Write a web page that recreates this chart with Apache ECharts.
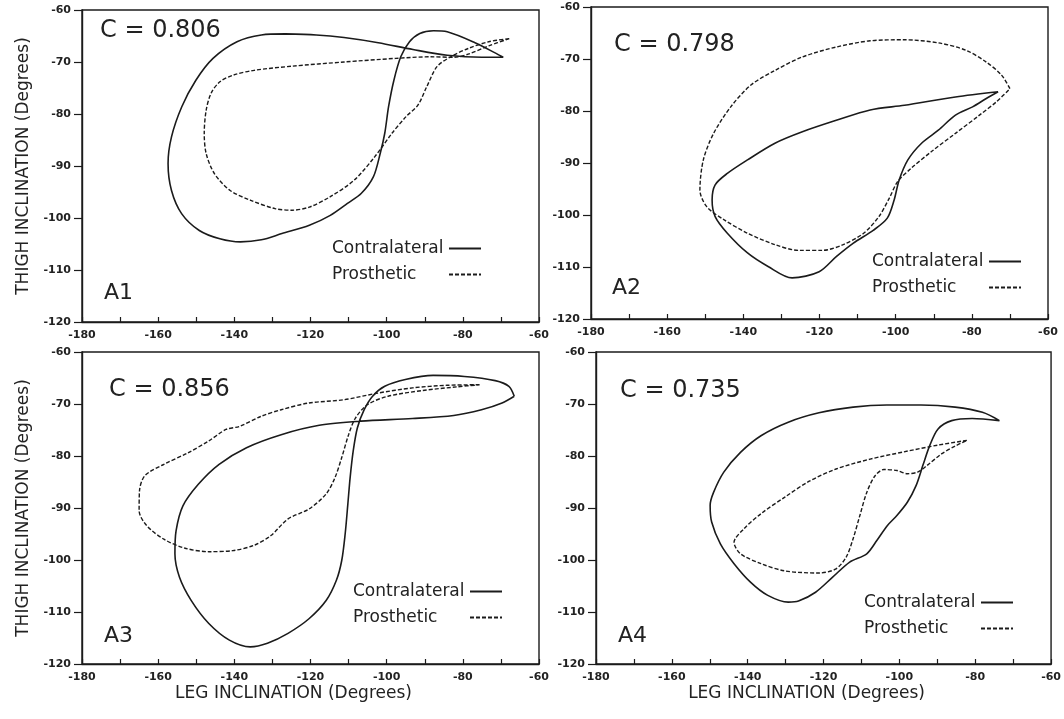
<!DOCTYPE html>
<html><head><meta charset="utf-8">
<script src="https://cdn.jsdelivr.net/npm/echarts@6/dist/echarts.min.js"></script>
<style>html,body{margin:0;padding:0;background:#fff}#chart{width:1064px;height:719px}</style>
</head><body><div id="chart"></div>
<script>
// ---- data ----
const panelLabels = ['A1', 'A2', 'A3', 'A4'];
const cValues = ['0.806', '0.798', '0.856', '0.735'];
const seriesNames = ['Contralateral', 'Prosthetic'];
const xMin = -180, xMax = -60, xStep = 10, xLabelStep = 20;
const yMin = -120, yMax = -60, yStep = 10;
const yAxisTitle = 'THIGH INCLINATION (Degrees)';
const xAxisTitle = 'LEG INCLINATION (Degrees)';

const a1Contralateral = [[-126.6,-64.6],[-118.5,-64.8],[-111.2,-65.3],[-102.2,-66.3],[-93.1,-67.6],[-84.1,-68.7],[-75.0,-69.1],[-69.4,-69.1],[-71.4,-68.3],[-76.8,-66.3],[-84.1,-64.2],[-87.7,-64.0],[-91.3,-64.5],[-94.0,-66.1],[-96.3,-69.0],[-98.1,-73.5],[-99.5,-78.6],[-100.5,-83.7],[-101.7,-87.6],[-103.5,-92.1],[-106.7,-95.3],[-110.3,-97.2],[-114.8,-99.5],[-120.3,-101.4],[-127.5,-103.0],[-132.9,-104.2],[-138.4,-104.6],[-143.8,-104.0],[-149.2,-102.4],[-153.8,-99.2],[-156.5,-94.7],[-157.4,-89.5],[-156.5,-84.4],[-153.8,-78.6],[-150.1,-73.5],[-145.6,-69.3],[-139.3,-66.1],[-132.9,-64.8],[-126.6,-64.6]];
const a1Prosthetic = [[-67.8,-65.5],[-73.2,-66.9],[-78.6,-68.5],[-82.3,-69.1],[-88.6,-69.0],[-97.6,-69.3],[-111.2,-70.0],[-124.8,-70.8],[-134.8,-71.6],[-140.2,-72.5],[-143.8,-73.8],[-146.1,-76.0],[-147.4,-79.3],[-147.9,-83.7],[-147.4,-87.6],[-145.2,-91.5],[-141.1,-94.7],[-135.7,-96.6],[-129.3,-98.2],[-124.8,-98.5],[-120.3,-97.9],[-114.8,-95.9],[-108.5,-92.7],[-103.1,-88.2],[-98.6,-83.7],[-94.9,-80.5],[-91.8,-78.3],[-89.5,-74.8],[-86.8,-70.9],[-83.2,-69.0],[-78.6,-67.4],[-73.2,-66.1],[-67.8,-65.5]];
const a2Contralateral = [[-73.1,-76.3],[-84.3,-77.3],[-97.7,-78.9],[-106.7,-79.8],[-115.6,-81.8],[-124.5,-84.0],[-131.7,-86.2],[-138.9,-89.4],[-144.2,-92.0],[-147.4,-94.2],[-148.2,-97.1],[-147.4,-100.3],[-144.2,-103.5],[-138.9,-107.3],[-133.5,-109.9],[-127.2,-112.1],[-120.1,-110.9],[-115.6,-108.0],[-111.1,-105.4],[-105.8,-102.9],[-102.2,-100.6],[-100.4,-97.1],[-99.1,-93.3],[-96.8,-89.4],[-93.2,-86.2],[-88.8,-83.7],[-84.3,-80.8],[-79.8,-79.2],[-76.2,-77.6],[-73.1,-76.3]];
const a2Prosthetic = [[-70.0,-75.7],[-72.2,-73.1],[-76.2,-70.6],[-81.6,-68.3],[-88.8,-66.9],[-97.7,-66.3],[-106.7,-66.5],[-115.6,-67.7],[-124.5,-69.6],[-131.7,-72.2],[-138.0,-75.0],[-143.3,-79.2],[-147.8,-84.3],[-150.5,-89.4],[-151.4,-95.2],[-149.6,-98.4],[-145.1,-100.9],[-138.9,-103.5],[-131.7,-105.7],[-125.4,-106.8],[-119.2,-106.8],[-113.8,-105.7],[-108.4,-103.5],[-104.4,-100.3],[-101.7,-96.8],[-99.5,-93.6],[-95.9,-91.0],[-90.6,-87.8],[-84.3,-84.3],[-78.0,-80.8],[-73.5,-78.2],[-70.0,-75.7]];
const a3Contralateral = [[-66.5,-68.5],[-67.9,-66.6],[-71.5,-65.5],[-79.6,-64.7],[-87.8,-64.5],[-95.1,-65.3],[-100.5,-66.6],[-103.7,-68.5],[-105.9,-71.1],[-107.7,-74.6],[-108.8,-79.1],[-109.6,-84.2],[-110.2,-89.3],[-110.9,-95.0],[-111.8,-100.1],[-113.2,-103.9],[-115.9,-107.8],[-120.4,-111.3],[-125.9,-114.1],[-131.3,-116.0],[-135.8,-116.7],[-141.3,-115.4],[-146.7,-112.2],[-151.3,-107.8],[-154.4,-103.3],[-155.6,-98.8],[-155.3,-94.4],[-153.5,-89.6],[-149.4,-85.4],[-144.0,-81.6],[-136.8,-78.4],[-127.7,-75.9],[-117.7,-74.1],[-106.8,-73.3],[-93.2,-72.8],[-82.4,-72.2],[-75.1,-71.1],[-69.7,-69.8],[-66.5,-68.5]];
const a3Prosthetic = [[-75.6,-66.3],[-84.2,-66.4],[-93.2,-66.9],[-102.3,-67.9],[-111.4,-69.2],[-120.4,-69.8],[-127.7,-71.1],[-133.1,-72.4],[-138.6,-74.3],[-142.2,-74.9],[-146.7,-77.1],[-152.2,-79.4],[-158.5,-81.6],[-163.5,-83.8],[-164.9,-86.7],[-165.0,-90.5],[-163.0,-93.4],[-158.5,-96.0],[-153.1,-97.7],[-146.7,-98.4],[-140.4,-98.2],[-134.9,-97.2],[-130.4,-95.3],[-125.9,-92.1],[-120.4,-90.2],[-115.9,-87.3],[-113.6,-84.2],[-111.8,-80.3],[-110.0,-75.9],[-108.2,-72.7],[-105.0,-70.1],[-99.6,-68.5],[-90.5,-67.4],[-81.5,-66.7],[-75.6,-66.3]];
const a4Contralateral = [[-73.6,-73.2],[-78.1,-71.6],[-85.3,-70.6],[-94.3,-70.2],[-103.3,-70.2],[-112.2,-70.6],[-121.2,-71.7],[-129.3,-73.5],[-136.5,-76.1],[-141.9,-79.3],[-146.3,-83.1],[-149.0,-87.0],[-149.9,-89.5],[-149.5,-92.7],[-147.2,-96.9],[-143.6,-100.7],[-139.2,-104.3],[-134.7,-106.8],[-129.3,-108.1],[-126.6,-107.9],[-122.1,-106.2],[-117.6,-103.3],[-113.1,-100.4],[-108.6,-98.8],[-105.9,-96.2],[-103.2,-93.4],[-100.6,-91.4],[-97.9,-88.9],[-95.6,-85.7],[-93.8,-81.8],[-92.0,-78.0],[-89.8,-74.8],[-86.2,-73.2],[-80.8,-72.8],[-73.6,-73.2]];
const a4Prosthetic = [[-82.2,-77.0],[-89.8,-77.9],[-98.8,-79.2],[-107.7,-80.6],[-116.7,-82.5],[-123.9,-84.9],[-130.2,-87.9],[-136.5,-91.1],[-141.0,-94.0],[-143.6,-96.6],[-141.9,-98.8],[-136.5,-100.7],[-130.2,-102.1],[-121.2,-102.5],[-116.7,-101.7],[-114.0,-99.4],[-112.2,-95.9],[-110.4,-91.4],[-108.6,-87.0],[-106.4,-83.8],[-104.1,-82.6],[-100.6,-82.8],[-97.9,-83.4],[-95.2,-83.1],[-92.5,-81.7],[-88.9,-79.6],[-85.3,-78.1],[-82.2,-77.0]];

const contralateralData = [a1Contralateral, a2Contralateral, a3Contralateral, a4Contralateral];
const prostheticData = [a1Prosthetic, a2Prosthetic, a3Prosthetic, a4Prosthetic];

// ---- layout ----
const grids = [
  {left: 82, top: 10, width: 457, height: 312},
  {left: 591, top: 7, width: 457, height: 312},
  {left: 82, top: 352, width: 457, height: 312},
  {left: 596, top: 352, width: 457, height: 312}
];
const cPos = [[100, 33], [614, 47], [109, 392], [620, 393]];
const labelPos = [[104, 295], [612, 290], [104, 638], [618, 638]];
const legendPos = [[327, 235], [867, 248], [348, 578], [859, 589]];
const showYName = [true, false, true, false];
const showXName = [false, false, true, true];

const INK = '#1b1b1b';
const FONT = 'DejaVu Sans';

const option = {
  backgroundColor: '#ffffff',
  animation: false,
  grid: grids.map(g => Object.assign({show: true, borderColor: INK, borderWidth: 1.4, backgroundColor: 'transparent'}, g)),
  xAxis: grids.map((g, i) => ({
    gridIndex: i, type: 'value', min: xMin, max: xMax, interval: xStep,
    name: showXName[i] ? xAxisTitle : '', nameLocation: 'middle', nameGap: 21,
    nameTextStyle: {fontFamily: FONT, fontSize: 17, color: '#222', padding: [0, 34, 0, 0]},
    axisLine: {show: true, onZero: false, lineStyle: {color: INK, width: 1.4}},
    axisTick: {show: true, inside: true, length: 5, lineStyle: {color: INK, width: 1.2}},
    axisLabel: {show: true, margin: 8, fontFamily: FONT, fontSize: 11, fontWeight: 'bold', color: '#222',
      showMinLabel: true, showMaxLabel: true,
      formatter: v => (v % xLabelStep === 0 ? String(v) : '')},
    splitLine: {show: false}
  })),
  yAxis: grids.map((g, i) => ({
    gridIndex: i, type: 'value', min: yMin, max: yMax, interval: yStep,
    name: showYName[i] ? yAxisTitle : '', nameLocation: 'middle', nameGap: 50,
    nameTextStyle: {fontFamily: FONT, fontSize: 17, color: '#222'},
    axisLine: {show: true, onZero: false, lineStyle: {color: INK, width: 1.4}},
    axisTick: {show: true, inside: false, length: 8, lineStyle: {color: INK, width: 1.2}},
    axisLabel: {show: true, margin: 11, fontFamily: FONT, fontSize: 11, fontWeight: 'bold', color: '#222',
      showMinLabel: true, showMaxLabel: true},
    splitLine: {show: false}
  })),
  legend: legendPos.map(p => ({
    left: p[0], top: p[1], orient: 'vertical', align: 'right',
    itemWidth: 32, itemHeight: 10, itemGap: 9,
    data: seriesNames, selectedMode: false,
    formatter: '{t|{name}}',
    textStyle: {fontFamily: FONT, fontSize: 17, color: '#222',
      rich: {t: {width: 112, align: 'left', fontFamily: FONT, fontSize: 17, color: '#222'}}},
    itemStyle: {opacity: 0}
  })),
  series: [],
  graphic: []
};

for (let i = 0; i < 4; i++) {
  option.series.push({
    name: seriesNames[0], type: 'line', xAxisIndex: i, yAxisIndex: i,
    data: contralateralData[i], symbol: 'none', smooth: 0.3, clip: true,
    lineStyle: {color: INK, width: 1.6, type: 'solid'}, itemStyle: {color: INK}
  });
  option.series.push({
    name: seriesNames[1], type: 'line', xAxisIndex: i, yAxisIndex: i,
    data: prostheticData[i], symbol: 'none', smooth: 0.3, clip: true,
    lineStyle: {color: INK, width: 1.4, type: [4, 2]}, itemStyle: {color: INK}
  });
  option.graphic.push({
    type: 'text', left: cPos[i][0], top: cPos[i][1] - 14,
    style: {text: 'C = ' + cValues[i], font: '24px "' + FONT + '"', fill: '#222'}
  });
  option.graphic.push({
    type: 'text', left: labelPos[i][0], top: labelPos[i][1] - 13,
    style: {text: panelLabels[i], font: '22px "' + FONT + '"', fill: '#222'}
  });
}

const chart = echarts.init(document.getElementById('chart'), null, {renderer: 'canvas'});
chart.setOption(option);
</script>
</body></html>
